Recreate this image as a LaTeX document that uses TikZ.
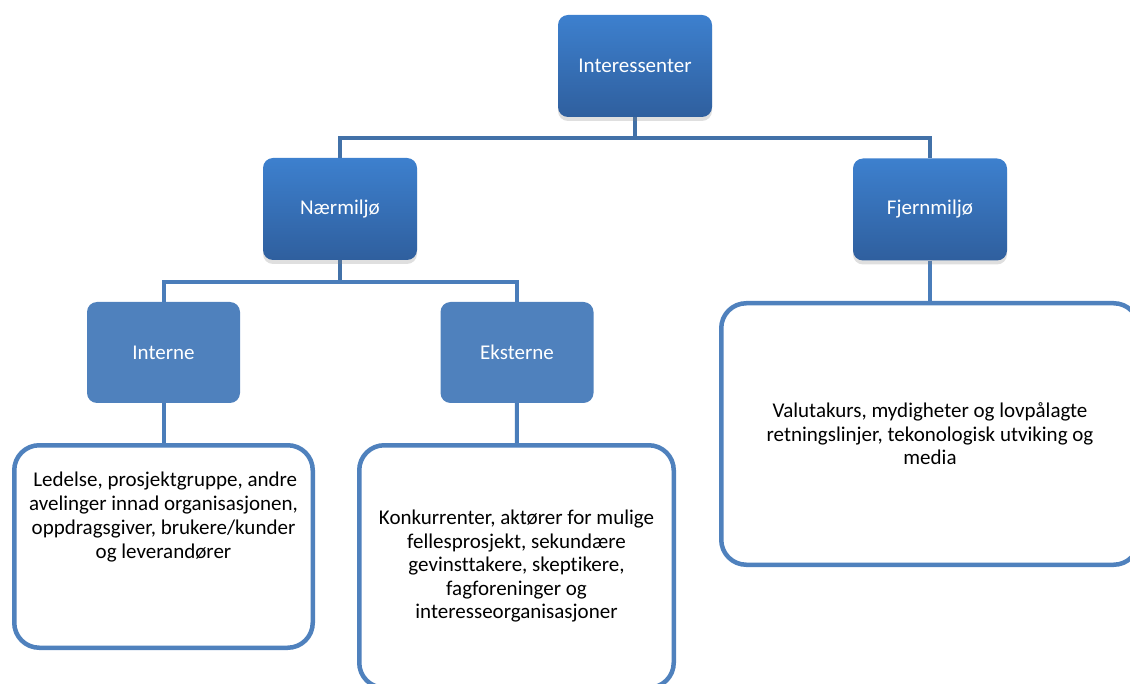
\documentclass[tikz,border=0pt]{standalone}
\usepackage{fontspec}
\setmainfont{Carlito}[Ligatures=NoCommon]
\usetikzlibrary{positioning,shadows,backgrounds}

\definecolor{boxtop}{HTML}{3D80CE}
\definecolor{boxbot}{HTML}{2F5F9E}
\definecolor{flatblue}{HTML}{4F81BD}
\definecolor{linedark}{HTML}{4271A8}
\definecolor{linelight}{HTML}{4A7DBA}

\begin{document}
\begin{tikzpicture}[
  x=1pt, y=-1pt,
  topbox/.style={rounded corners=10pt, minimum width=154pt,
                 minimum height=102pt, top color=boxtop, bottom color=boxbot,
                 text=white, font=\fontsize{21}{24}\selectfont,
                 drop shadow={shadow xshift=0pt, shadow yshift=-4pt, opacity=0.25}},
  subbox/.style={rounded corners=10pt, fill=flatblue, minimum width=153pt,
                 minimum height=101pt, text=white,
                 font=\fontsize{21}{24}\selectfont},
  infobox/.style={draw=flatblue, line width=4.5pt, rounded corners=25pt,
                  fill=white, align=center, inner sep=0pt,
                  font=\fontsize{21}{23.5}\selectfont},
  infotext/.style={align=center, inner sep=0pt,
                   font=\fontsize{21}{24}\selectfont},
  conn/.style={draw=linedark, line width=4pt},
  connlt/.style={draw=linelight, line width=4pt},
]
\useasboundingbox (0,0) rectangle (1130,684);
\clip (0,0) rectangle (1130,684);

%% top level
\node[topbox] (int)   at (635,66)    {Interessenter};
\node[topbox] (naer)  at (340,209)   {Nærmiljø};
\node[topbox] (fjern) at (930,209.5) {Fjernmiljø};

%% second level
\node[subbox] (intern) at (163.5,352.5) {Interne};
\node[subbox] (ekst)   at (517,352.5)   {Eksterne};

%% text boxes
\node[infobox, minimum width=298.5pt, minimum height=202.5pt]
  (intbox) at (163.5,546.5) {};
\node[infotext, below=29pt of intbox.north] (inttxt)
  {\,Ledelse, prosjektgruppe, andre\\avelinger innad organisasjonen,\\
   oppdragsgiver, brukere/kunder\\og leverandører};

\node[infobox, minimum width=314.5pt, minimum height=242.5pt]
  (ekstbox) at (516.5,566.5)
  {Konkurrenter, aktører for mulige\\fellesprosjekt, sekundære\\
   gevinsttakere, skeptikere,\\fagforeninger og\\interesseorganisasjoner};

\node[infobox, minimum width=417.5pt, minimum height=261.5pt]
  (fjernbox) at (930,434)
  {Valutakurs, mydigheter og lovpålagte\\
   retningslinjer, tekonologisk utviking og\\media};

%% connectors behind the boxes
\coordinate (j1) at (635,138);
\coordinate (j2) at (340,282);
\begin{pgfonlayer}{background}
  \draw[conn] (int) -- (j1);
  \draw[conn] (naer.north) |- (j1) -| (fjern.north);
  \draw[conn] (naer) -- (j2);
  \draw[connlt] (intern.north) |- (j2) -| (ekst.north);
  \draw[connlt] (intern) -- (intbox);
  \draw[connlt] (ekst) -- (ekstbox);
  \draw[connlt] (fjern) -- (fjernbox);
\end{pgfonlayer}
\end{tikzpicture}
\end{document}
